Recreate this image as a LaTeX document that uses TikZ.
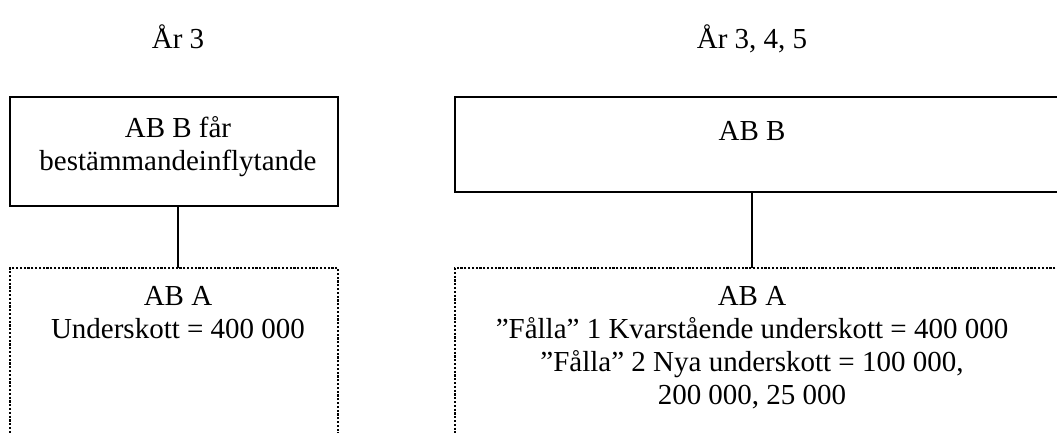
\documentclass[tikz,border=0pt]{standalone}
\usepackage{fontspec}
\setmainfont{Liberation Serif}
\begin{document}
\begin{tikzpicture}[x=1pt,y=-1pt,
  solidbox/.style={draw, line width=2pt, inner sep=0pt, outer sep=0pt},
  dotbox/.style={draw, line width=2.2pt, dash pattern=on 2.2pt off 1.6pt, inner sep=0pt, outer sep=0pt},
  lbl/.style={font=\fontsize{29}{33}\selectfont, align=center, inner sep=0pt, anchor=base},
  link/.style={line width=1.5pt}]
\useasboundingbox (0,0) rectangle (1057,432);
\node[lbl] (t1) at (178,48) {År 3};
\node[lbl] (t2) at (752,48) {År 3, 4, 5};
\node[solidbox, minimum width=328pt, minimum height=109pt] (bL) at (174,151.5) {};
\node[solidbox, minimum width=645pt, minimum height=95pt] (bR) at (777.5,144.5) {};
\node[dotbox, minimum width=328pt, minimum height=192pt] (dL) at (174,364) {};
\node[dotbox, minimum width=645pt, minimum height=192pt] (dR) at (777.5,364) {};
\coordinate (cL) at (178,0);
\coordinate (cR) at (752,0);
\draw[link] (bL.south -| cL) -- (dL.north -| cL);
\draw[link] (bR.south -| cR) -- (dR.north -| cR);
\node[lbl] (aL) at (178,170) {AB B får\\bestämmandeinflytande};
\node[lbl] (aR) at (752,140) {AB B};
\node[lbl] (xL) at (178,338) {AB A\\Underskott = 400 000};
\node[lbl] (xR) at (752,404) {AB A\\”Fålla” 1 Kvarstående underskott = 400 000\\”Fålla” 2 Nya underskott = 100 000,\\200 000, 25 000};
\end{tikzpicture}
\end{document}
